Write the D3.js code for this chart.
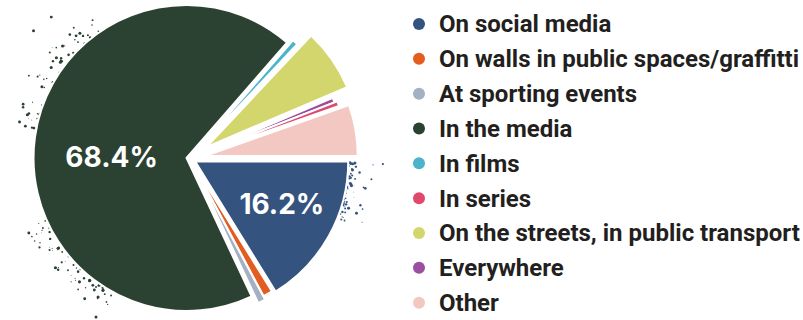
<!DOCTYPE html>
<html>
<head>
<meta charset="utf-8">
<script src="https://cdn.jsdelivr.net/npm/d3@7"></script>
<style>
  html, body { margin: 0; padding: 0; background: #fff; }
  svg { display: block; }
</style>
</head>
<body>
<svg id="chart" width="803" height="320"></svg>
<script>
// Where people encounter it — share of answers (%)
const categories = [
  "On social media",
  "On walls in public spaces/graffitti",
  "At sporting events",
  "In the media",
  "In films",
  "In series",
  "On the streets, in public transport",
  "Everywhere",
  "Other"
];
const shares = [16.2, 1.0, 0.8, 68.4, 0.6, 0.5, 6.6, 0.5, 5.4];
const colors = ["#35537f", "#e35c20", "#a4b0c3", "#2b4232", "#4cb4ca", "#df4a6c", "#d3d66c", "#9a4fa0", "#f3c8c2"];
// clockwise drawing order of the slices, starting at 3 o'clock
const sliceOrder = [0, 1, 2, 3, 4, 6, 7, 5, 8];
// slices that carry a value label
const labelled = [3, 0];

// layout / style
const cx = 190, cy = 158.5, R = 153;
const explode = [6, 3, 7, 3.5, 4, 5, 20, 2, 15];
// label placement: [fraction of radius, angle in degrees clockwise from 12 o'clock]
const labelPos = { 3: [0.49, 271], 0: [0.63, 116] };

const svg = d3.select("#chart");

const pie = d3.pie()
  .value(i => shares[i])
  .sort(null)
  .startAngle(Math.PI / 2)
  .endAngle(Math.PI / 2 + 2 * Math.PI);
const arcs = pie(sliceOrder);
const arc = d3.arc().innerRadius(0).outerRadius(R);

const unit = a => [Math.sin(a), -Math.cos(a)];
function offsetOf(d) {
  const m = (d.startAngle + d.endAngle) / 2;
  const [ux, uy] = unit(m);
  return [cx + ux * explode[d.data], cy + uy * explode[d.data]];
}

const g = svg.append("g");

// spray speckles along the outer rim of some slices (fixed seed, decorative)
const rng = d3.randomLcg(0.4217);
const spray = [
  { cat: 3, a0: 205, a1: 247, n: 70, spread: 11, skew: 1 },
  { cat: 3, a0: 280, a1: 326, n: 70, spread: 11, skew: 1 },
  { cat: 0, a0: 90.5, a1: 112, n: 95, spread: 6, skew: 1.6 }
];
const specks = [];
spray.forEach(s => {
  const d = arcs.find(a => a.data === s.cat);
  const [ox, oy] = offsetOf(d);
  for (let k = 0; k < s.n; k++) {
    const a = (s.a0 + (s.a1 - s.a0) * Math.pow(rng(), s.skew)) * Math.PI / 180;
    const dist = Math.min(48, -Math.log(1 - rng() * 0.999) * s.spread);
    const r = R - 2 + dist;
    const [ux, uy] = unit(a);
    specks.push({ x: ox + ux * r, y: oy + uy * r, s: 0.35 + rng() * 1.25, c: colors[s.cat] });
  }
});
g.selectAll("circle.speck")
  .data(specks)
  .join("circle")
  .attr("class", "speck")
  .attr("cx", d => d.x)
  .attr("cy", d => d.y)
  .attr("r", d => d.s)
  .attr("fill", d => d.c);

// slices
g.selectAll("path.slice")
  .data(arcs)
  .join("path")
  .attr("class", "slice")
  .attr("transform", d => `translate(${offsetOf(d)})`)
  .attr("d", arc)
  .attr("fill", d => colors[d.data])
  .attr("stroke", "#fff")
  .attr("stroke-width", 2)
  .attr("stroke-linejoin", "miter");

// value labels
const fmt = v => d3.format(".1f")(v) + "%";
g.selectAll("text.val")
  .data(arcs.filter(d => labelled.includes(d.data)))
  .join("text")
  .attr("class", "val")
  .attr("transform", d => {
    const [ox, oy] = offsetOf(d);
    const [frac, deg] = labelPos[d.data];
    const [ux, uy] = unit(deg * Math.PI / 180);
    return `translate(${ox + ux * R * frac},${oy + uy * R * frac})`;
  })
  .attr("text-anchor", "middle")
  .attr("dy", "0.36em")
  .attr("fill", "#fff")
  .style("font-family", "Inter, 'Open Sans', sans-serif")
  .style("font-weight", 700)
  .style("font-size", "28px")
  .text(d => fmt(shares[d.data]));

// legend
const legY = d3.scalePoint().domain(d3.range(categories.length)).range([24, 302.7]);
const leg = svg.append("g")
  .selectAll("g")
  .data(d3.range(categories.length))
  .join("g")
  .attr("transform", i => `translate(0,${legY(i)})`);
leg.append("circle")
  .attr("cx", 419)
  .attr("cy", 0)
  .attr("r", 6)
  .attr("fill", i => colors[i]);
leg.append("text")
  .attr("x", 439)
  .attr("y", 0)
  .attr("dy", "0.35em")
  .attr("fill", "#231f20")
  .style("font-family", "Roboto, sans-serif")
  .style("font-weight", 700)
  .style("font-size", "24px")
  .text(i => categories[i]);
</script>
</body>
</html>
